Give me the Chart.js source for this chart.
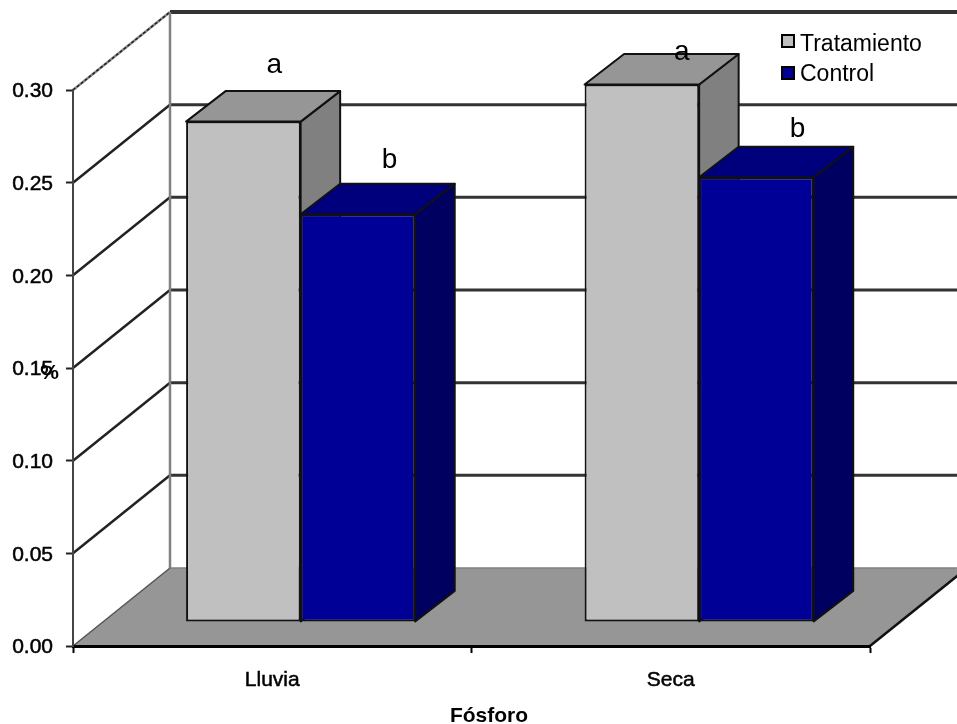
<!DOCTYPE html>
<html>
<head>
<meta charset="utf-8">
<title>Fósforo</title>
<style>
  html, body { margin: 0; padding: 0; background: #fff; }
  canvas { display: block; }
</style>
<script src="https://cdn.jsdelivr.net/npm/chart.js@4/dist/chart.umd.min.js"></script>
</head>
<body>
<canvas id="phosphorusChart" width="957" height="724"></canvas>
<script>
const categories = ['Lluvia', 'Seca'];
const tratamiento = [0.27, 0.29];
const control = [0.22, 0.24];
const letrasTratamiento = ['a', 'a'];
const letrasControl = ['b', 'b'];
const yTicks = [0, 0.05, 0.10, 0.15, 0.20, 0.25, 0.30];

const FONT = '"Liberation Sans", Arial, sans-serif';

// perspective offsets of the fake 3D box
const wall = { dx: 97, dy: -78 };
const barFront = { dx: 28.4, dy: -24 };
const barDepth = { dx: 39.5, dy: -30.5 };

// where each significance letter sits, relative to the front top of its bar
const letterOffset = [
  [{ x: 31, y: -49 }, { x: 40, y: -25 }],
  [{ x: 31.5, y: -46 }, { x: 41, y: -40 }]
];

const sideColors = [
  { side: '#808080', top: '#969696' },
  { side: '#000060', top: '#00007c' }
];

function poly(ctx, pts, fill, stroke, width) {
  ctx.beginPath();
  pts.forEach((p, i) => i ? ctx.lineTo(p[0], p[1]) : ctx.moveTo(p[0], p[1]));
  ctx.closePath();
  if (fill) { ctx.fillStyle = fill; ctx.fill(); }
  if (stroke) { ctx.strokeStyle = stroke; ctx.lineWidth = width; ctx.stroke(); }
}

function line(ctx, x1, y1, x2, y2, color, width) {
  ctx.beginPath();
  ctx.moveTo(x1, y1);
  ctx.lineTo(x2, y2);
  ctx.strokeStyle = color;
  ctx.lineWidth = width;
  ctx.stroke();
}

const box3d = {
  id: 'box3d',
  // back wall, side wall and floor
  beforeDraw(chart) {
    const { ctx, width, height, chartArea: area, scales: { y } } = chart;
    ctx.save();
    ctx.fillStyle = '#fff';
    ctx.fillRect(0, 0, width, height);

    const floorY = y.getPixelForValue(0);
    yTicks.slice(1).forEach(v => {
      const py = y.getPixelForValue(v);
      const top = v === yTicks[yTicks.length - 1];
      line(ctx, area.left + wall.dx, py + wall.dy, width, py + wall.dy, '#333', top ? 4 : 3);
      if (top) {
        line(ctx, area.left, py, area.left + wall.dx, py + wall.dy, '#888', 2.5);
        ctx.setLineDash([3, 2]);
        line(ctx, area.left, py, area.left + wall.dx, py + wall.dy, '#222', 1.5);
        ctx.setLineDash([]);
      } else {
        line(ctx, area.left, py, area.left + wall.dx, py + wall.dy, '#222', 2.5);
      }
    });
    line(ctx, area.left + wall.dx, y.getPixelForValue(0.30) + wall.dy,
      area.left + wall.dx, floorY + wall.dy, '#808080', 2.5);

    poly(ctx, [
      [area.left, floorY],
      [area.left + wall.dx, floorY + wall.dy],
      [area.right + wall.dx, floorY + wall.dy],
      [area.right, floorY]
    ], '#969696');
    line(ctx, area.left, floorY, area.left + wall.dx, floorY + wall.dy, '#555', 1.5);
    line(ctx, area.left + wall.dx, floorY + wall.dy, width, floorY + wall.dy, '#808080', 1.5);
    line(ctx, area.right, floorY, area.right + wall.dx, floorY + wall.dy, '#111', 2.5);
    ctx.restore();
  },
  // bars go category by category so the left series stays behind the right one
  beforeDatasetsDraw(chart) {
    const { ctx } = chart;
    ctx.save();
    ctx.translate(barFront.dx, barFront.dy);
    ctx.lineJoin = 'round';
    categories.forEach((c, i) => {
      chart.data.datasets.forEach((ds, d) => {
        const bar = chart.getDatasetMeta(d).data[i];
        const l = bar.x - bar.width / 2;
        const r = bar.x + bar.width / 2;
        const dx = barDepth.dx;
        const dy = barDepth.dy;
        poly(ctx, [[r, bar.y], [r + dx, bar.y + dy], [r + dx, bar.base + dy], [r, bar.base]],
          sideColors[d].side, '#111', 2);
        poly(ctx, [[l, bar.y], [l + dx, bar.y + dy], [r + dx, bar.y + dy], [r, bar.y]],
          sideColors[d].top, '#111', 2);
        bar.draw(ctx);
      });
    });
    ctx.restore();
    return false;
  },
  // letters, legend and axis titles
  afterDraw(chart) {
    const { ctx } = chart;
    ctx.save();
    ctx.fillStyle = '#000';
    ctx.textBaseline = 'alphabetic';

    ctx.font = '28px ' + FONT;
    ctx.textAlign = 'center';
    [letrasTratamiento, letrasControl].forEach((letras, d) => {
      letras.forEach((t, i) => {
        const bar = chart.getDatasetMeta(d).data[i];
        ctx.fillText(t, bar.x + barFront.dx + letterOffset[d][i].x, bar.y + barFront.dy + letterOffset[d][i].y);
      });
    });

    ctx.font = 'bold 21px ' + FONT;
    ctx.fillText('Fósforo', 489, 722);
    ctx.fillText('%', 49.5, 379);

    ctx.textAlign = 'left';
    ctx.font = '23px ' + FONT;
    chart.data.datasets.forEach((ds, d) => {
      const top = d === 0 ? 34 : 66;
      ctx.fillStyle = ds.backgroundColor;
      ctx.strokeStyle = '#000';
      ctx.lineWidth = 2;
      ctx.fillRect(782, top + 1, 12, 12);
      ctx.strokeRect(782, top + 1, 12, 12);
      ctx.fillStyle = '#000';
      ctx.fillText(ds.label, 800, d === 0 ? 50.5 : 80.5);
    });
    ctx.restore();
  }
};

new Chart(document.getElementById('phosphorusChart').getContext('2d'), {
  type: 'bar',
  data: {
    labels: categories,
    datasets: [
      { label: 'Tratamiento', data: tratamiento, backgroundColor: '#c0c0c0' },
      { label: 'Control', data: control, backgroundColor: '#000096' }
    ]
  },
  options: {
    responsive: false,
    animation: false,
    layout: { padding: { left: 0, right: 87, top: 90, bottom: 0 } },
    datasets: {
      bar: {
        categoryPercentage: 0.575,
        barPercentage: 1,
        borderColor: '#111',
        borderWidth: 2,
        borderSkipped: false
      }
    },
    scales: {
      x: {
        afterFit: scale => { scale.height = 78; },
        grid: { drawOnChartArea: false, tickLength: 7, tickColor: '#000', tickWidth: 2 },
        border: { color: '#000', width: 3 },
        ticks: {
          color: '#000',
          padding: 15,
          textStrokeColor: '#000',
          textStrokeWidth: 0.5,
          font: { family: FONT, size: 21 }
        }
      },
      y: {
        min: 0,
        max: 0.30,
        afterFit: scale => { scale.width = 73; },
        afterBuildTicks: scale => { scale.ticks = yTicks.map(v => ({ value: v })); },
        grid: { drawOnChartArea: false, tickLength: 7, tickColor: '#222', tickWidth: 2 },
        border: { color: '#444', width: 2 },
        ticks: {
          color: '#000',
          padding: 13,
          labelOffset: 1.5,
          textStrokeColor: '#000',
          textStrokeWidth: 0.5,
          font: { family: FONT, size: 21 },
          callback: v => v.toFixed(2)
        }
      }
    },
    plugins: {
      legend: { display: false },
      tooltip: { enabled: false }
    }
  },
  plugins: [box3d]
});
</script>
</body>
</html>
